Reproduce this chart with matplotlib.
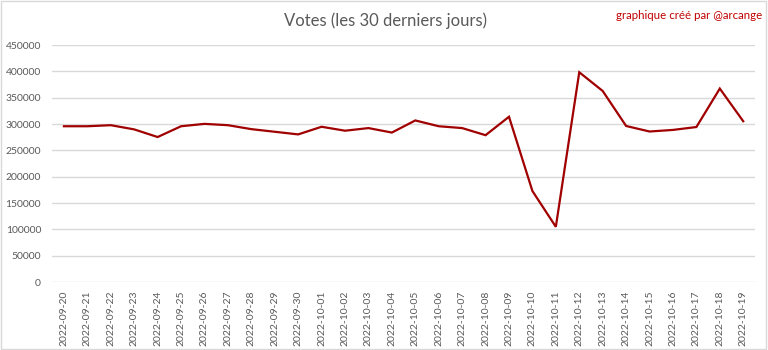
import matplotlib.pyplot as plt
import matplotlib.patches as patches
import numpy as np

plt.rcParams['font.family'] = ['Lato', 'DejaVu Sans']

dates = [
    "2022-09-20", "2022-09-21", "2022-09-22", "2022-09-23", "2022-09-24",
    "2022-09-25", "2022-09-26", "2022-09-27", "2022-09-28", "2022-09-29",
    "2022-09-30", "2022-10-01", "2022-10-02", "2022-10-03", "2022-10-04",
    "2022-10-05", "2022-10-06", "2022-10-07", "2022-10-08", "2022-10-09",
    "2022-10-10", "2022-10-11", "2022-10-12", "2022-10-13", "2022-10-14",
    "2022-10-15", "2022-10-16", "2022-10-17", "2022-10-18", "2022-10-19",
]
votes = [
    296000, 296000, 298000, 290000, 275500,
    296000, 300500, 298000, 290500, 285500,
    280500, 295000, 287500, 292500, 284000,
    307000, 296000, 292500, 279000, 314000,
    173000, 105000, 398500, 363000, 296500,
    286000, 289000, 294500, 367500, 305500,
]

fig = plt.figure(figsize=(7.68, 3.5), dpi=100)
ax = fig.add_axes([0.068, 0.194, 0.915, 0.677])

x = np.arange(len(dates))
ax.plot(x, votes, color="#a00000", linewidth=1.6, solid_joinstyle="miter")

ax.set_xlim(-0.5, len(dates) - 0.5)
ax.set_ylim(0, 450000)
ax.set_yticks(np.arange(0, 450001, 50000))
ax.set_yticklabels([str(v) for v in range(0, 450001, 50000)])
ax.set_xticks(x)
ax.set_xticklabels(dates, rotation=90)

for s in ax.spines.values():
    s.set_visible(False)
ax.grid(axis="y", color="#d9d9d9", linewidth=1)
ax.set_axisbelow(True)
ax.tick_params(axis="both", length=0, labelsize=7.5, colors="#595959")
ax.tick_params(axis="y", pad=8)
ax.tick_params(axis="x", pad=6)

fig.text(0.502, 0.94, "Votes (les 30 derniers jours)", ha="center", va="center",
         fontsize=12, color="#595959")
fig.text(0.993, 0.955, "graphique créé par @arcange", ha="right", va="center",
         fontsize=8.3, color="#c00000")

fig.patches.append(patches.Rectangle((0.001, 0.002), 0.997, 0.995, transform=fig.transFigure,
                                     fill=False, edgecolor="#d9d9d9", linewidth=1))

fig.savefig("out.png", dpi=100)
